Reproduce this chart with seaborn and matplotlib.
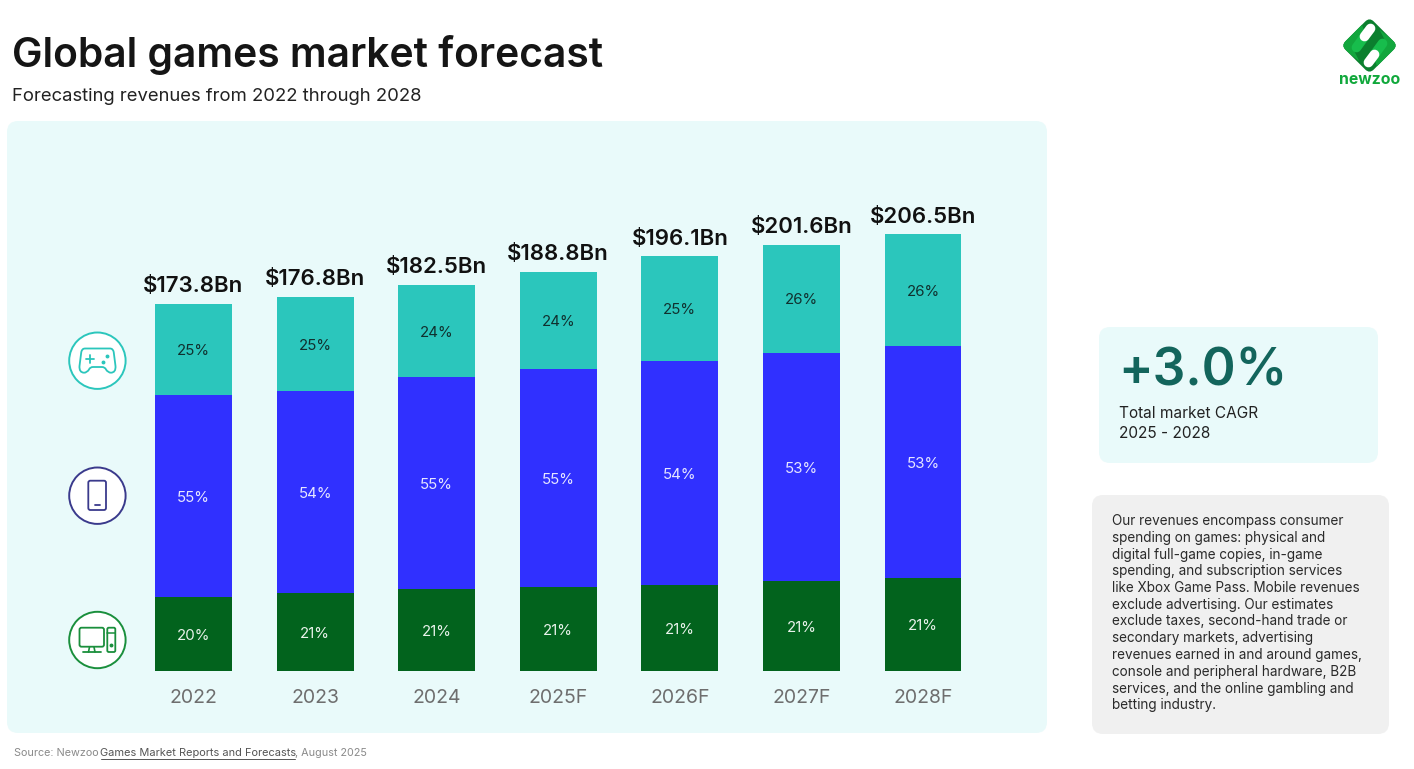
import matplotlib
matplotlib.use("Agg")
import matplotlib.pyplot as plt
import numpy as np
import seaborn as sns
from matplotlib.patches import Circle, FancyBboxPatch, PathPatch, Polygon
from matplotlib.path import Path
from matplotlib.transforms import Affine2D

# data (revenue in $Bn)
years = ["2022", "2023", "2024", "2025F", "2026F", "2027F", "2028F"]
totals = [173.8, 176.8, 182.5, 188.8, 196.1, 201.6, 206.5]
pc = [35.0, 36.9, 38.8, 39.7, 40.7, 42.6, 44.0]
mobile = [95.6, 95.6, 100.3, 103.1, 106.0, 107.9, 109.7]
console = [43.2, 44.3, 43.4, 46.0, 49.4, 51.1, 52.8]
pc_share = [20, 21, 21, 21, 21, 21, 21]
mobile_share = [55, 54, 55, 55, 54, 53, 53]
console_share = [25, 25, 24, 24, 25, 26, 26]

note_lines = [
    "Our revenues encompass consumer",
    "spending on games: physical and",
    "digital full-game copies, in-game",
    "spending, and subscription services",
    "like Xbox Game Pass. Mobile revenues",
    "exclude advertising. Our estimates",
    "exclude taxes, second-hand trade or",
    "secondary markets, advertising",
    "revenues earned in and around games,",
    "console and peripheral hardware, B2B",
    "services, and the online gambling and",
    "betting industry.",
]

TEAL = "#2BC6BC"
BLUE = "#3030FF"
GREEN = "#02631D"
PANEL = "#E9FAFA"
FONT = "Inter"

sns.set_theme(style="white")
plt.rcParams["font.family"] = [FONT, "DejaVu Sans"]

W, H = 1414, 769
fig = plt.figure(figsize=(W / 100, H / 100), dpi=100, facecolor="white")

# background layer in pixel coordinates for panels, icons and text
bg = fig.add_axes([0, 0, 1, 1], zorder=0)
bg.set_xlim(0, W)
bg.set_ylim(H, 0)
bg.axis("off")


def panel(x0, y0, x1, y1, color, r=11):
    bg.add_patch(FancyBboxPatch((x0 + r, y0 + r), x1 - x0 - 2 * r, y1 - y0 - 2 * r,
                                boxstyle=f"round,pad={r},rounding_size={r}",
                                fc=color, ec="none"))


panel(7, 121, 1047, 733, PANEL)
panel(1099, 327, 1378, 463, PANEL)
panel(1092, 495, 1389, 734, "#F0F0F0")

bg.text(12, 55, "Global games market forecast", fontsize=29.4, fontweight="semibold",
        color="#151515", va="center")
bg.text(12, 96.5, "Forecasting revenues from 2022 through 2028", fontsize=13.3,
        color="#222222", va="center")

bg.text(1118, 372, "+3.0%", fontsize=37, fontweight="semibold", color="#13655C", va="center")
bg.text(1119, 414, "Total market CAGR", fontsize=11.1, color="#222222", va="center")
bg.text(1119, 433, "2025 - 2028", fontsize=11.1, color="#222222", va="center")

for i, line in enumerate(note_lines):
    bg.text(1112.5, 521 + i * 16.75, line, fontsize=9.75, color="#2a2a2a", va="center")

bg.text(14, 753.5, "Source: Newzoo", fontsize=7.8, color="#8a8a8a", va="center")
bg.text(100.5, 753.5, "Games Market Reports and Forecasts", fontsize=7.92, color="#555555", va="center")
bg.plot([100.5, 295], [759, 759], color="#555555", lw=0.7)
bg.text(295, 753.5, ", August 2025", fontsize=7.8, color="#8a8a8a", va="center")

# round icons left of the bars
ICON_X = 97.4
NAVY = "#3A3A8C"
ICON_GREEN = "#1A8F3C"
for cy, col in [(360.7, TEAL), (495.7, NAVY), (640, ICON_GREEN)]:
    bg.add_patch(Circle((ICON_X, cy), 28.2, fc="white", ec=col, lw=1.4))


def outline(x0, y0, x1, y1, col, r=2.0):
    bg.add_patch(FancyBboxPatch((x0 + r, y0 + r), x1 - x0 - 2 * r, y1 - y0 - 2 * r,
                                boxstyle=f"round,pad={r},rounding_size={r}",
                                fc="none", ec=col, lw=1.3))


# gamepad
M, L, C = Path.MOVETO, Path.LINETO, Path.CURVE3
pad = [((85, 348.5), M), ((110, 348.5), L), ((113, 348.5), C), ((113.7, 352), C),
       ((115.5, 366), L), ((116, 372.5), C), ((111, 372.7), C), ((108, 372.7), C),
       ((106, 369.5), C), ((105, 367), C), ((102, 367), C), ((93, 367), L),
       ((90, 367), C), ((89, 369.5), C), ((87, 372.7), C), ((84, 372.7), C),
       ((79, 372.5), C), ((79.5, 366), C), ((81.3, 352), L), ((82, 348.5), C), ((85, 348.5), C)]
bg.add_patch(PathPatch(Path([p[0] for p in pad], [p[1] for p in pad]), fc="none", ec=TEAL, lw=1.3))
bg.plot([86, 94], [359.3, 359.3], color=TEAL, lw=1.3)
bg.plot([90, 90], [355.3, 363.3], color=TEAL, lw=1.3)
bg.plot([106.7, 103.3], [356, 361.7], ls="none", marker="o", ms=1.8, color=TEAL)

# phone
outline(88.3, 480.7, 106, 510, NAVY)
bg.plot([95, 99.5], [505, 505], color=NAVY, lw=1.3)

# desktop
outline(79.5, 627.7, 104, 646.7, ICON_GREEN)
outline(107.3, 627.7, 115.3, 652, ICON_GREEN, r=1.5)
bg.plot([107.3, 115.3], [633, 633], color=ICON_GREEN, lw=1.1)
bg.plot([111.3], [644.5], marker="o", ms=1.8, color=ICON_GREEN)
bg.plot([89.5, 88.5], [647, 652], color=ICON_GREEN, lw=1.2)
bg.plot([94, 95], [647, 652], color=ICON_GREEN, lw=1.2)
bg.plot([83, 101], [652, 652], color=ICON_GREEN, lw=1.3)

# newzoo logo
lx, ly = 1369.5, 45.5
logo = FancyBboxPatch((lx - 15, ly - 15), 30, 30, boxstyle="round,pad=5,rounding_size=6",
                      fc="#0B7F2E", ec="none",
                      transform=Affine2D().rotate_deg_around(lx, ly, 45) + bg.transData)
bg.add_patch(logo)
for pts in [[(lx - 30, ly), (lx - 8, ly - 22), (lx - 5, ly - 14), (lx - 16, ly + 4), (lx - 10, ly + 16)],
            [(lx + 30, ly), (lx + 8, ly + 22), (lx + 5, ly + 14), (lx + 16, ly - 4), (lx + 10, ly - 16)]]:
    piece = Polygon(pts, fc="#12A63D", ec="none")
    bg.add_patch(piece)
    piece.set_clip_path(logo)
for x0, y0, x1, y1, xm, ym in [(lx + 1, ly - 17, lx - 13, ly + 2, lx - 5, ly - 9),
                               (lx - 1, ly + 17, lx + 13, ly - 2, lx + 5, ly + 9)]:
    bg.plot([xm, x1], [ym, y1], color="#17BD4C", lw=7, solid_capstyle="round")
    bg.plot([x0, xm], [y0, ym], color="white", lw=7, solid_capstyle="round")
bg.text(lx, 80, "newzoo", fontsize=11.4, fontweight="bold", color="#10A83B", ha="center", va="center")

# bars
left, right = 132.7, 983.8
base, top = 671, 140
ax = fig.add_axes([left / W, 1 - base / H, (right - left) / W, (base - top) / H], zorder=1)
ax.patch.set_alpha(0)

pc = np.array(pc)
mobile = np.array(mobile)
console = np.array(console)

bw = 0.633
kw = dict(saturation=1, width=bw, linewidth=0, edgecolor="none", ax=ax)
sns.barplot(x=years, y=pc, color=GREEN, **kw)
sns.barplot(x=years, y=mobile, bottom=pc, color=BLUE, **kw)
sns.barplot(x=years, y=console, bottom=pc + mobile, color=TEAL, **kw)

shares = [pc_share, mobile_share, console_share]
cols = ["#E8F2EA", "#E6E6FF", "#10302E"]
for cont, share, col in zip(ax.containers, shares, cols):
    for a in ax.bar_label(cont, labels=[f"{s}%" for s in share], label_type="center",
                          fontsize=10.8, color=col):
        a.xyann = (0, -1.2)

for i, t in enumerate(totals):
    ax.annotate(f"${t}Bn", (i, t), xytext=(0, 12.8), textcoords="offset points", ha="center",
                va="center", fontsize=16, fontweight="semibold", color="#111111")

ax.set_xlim(-0.5, 6.5)
ax.set_ylim(0, (base - top) / 2.114)
ax.set_yticks([])
ax.set_ylabel("")
ax.set_xlabel("")
ax.tick_params(axis="x", length=0, pad=13, labelsize=14, labelcolor="#6E6E6E")
sns.despine(ax=ax, left=True, bottom=True)

fig.savefig("out.png", dpi=100)
